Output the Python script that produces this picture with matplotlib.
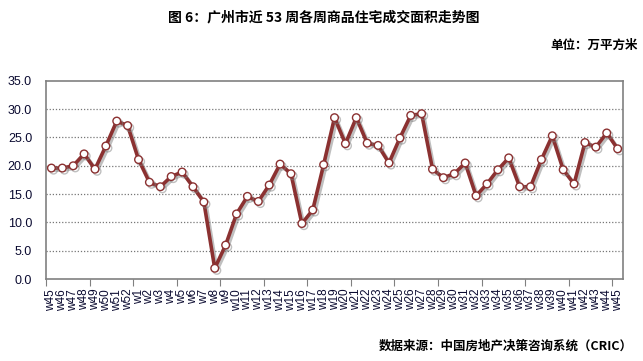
import matplotlib.pyplot as plt
import matplotlib.patheffects as pe

plt.rcParams['font.family'] = ['Liberation Sans', 'Noto Sans CJK SC', 'DejaVu Sans']

weeks = ["w45", "w46", "w47", "w48", "w49", "w50", "w51", "w52"] + ["w" + str(i) for i in range(1, 46)]
area = [19.6, 19.6, 20.0, 22.1, 19.4, 23.5, 27.9, 27.1,
        21.1, 17.1, 16.3, 18.1, 18.9, 16.3, 13.6, 1.9, 6.0, 11.5,
        14.6, 13.7, 16.6, 20.3, 18.6, 9.8, 12.2, 20.2, 28.5, 23.9,
        28.5, 24.0, 23.6, 20.5, 24.9, 28.9, 29.2, 19.4, 17.9, 18.6,
        20.5, 14.7, 16.8, 19.3, 21.4, 16.3, 16.3, 21.1, 25.3, 19.3,
        16.8, 24.1, 23.3, 25.8, 23.0]

fig = plt.figure(figsize=(6.43, 3.61), dpi=100)
ax = fig.add_axes([0.0715, 0.227, 0.8975, 0.549])

x = [i + 0.5 for i in range(len(weeks))]
line_color = "#8b3131"
ax.plot(x, area, color=line_color, linewidth=2.6, marker="o", markersize=5.5,
        markerfacecolor="white", markeredgecolor=line_color, markeredgewidth=1.0,
        path_effects=[pe.SimpleLineShadow(offset=(1.5, -1.5), shadow_color="gray", alpha=0.5), pe.Normal()],
        zorder=3)

ax.set_xlim(0, len(weeks))
ax.set_ylim(0, 35)
ax.set_yticks([0, 5, 10, 15, 20, 25, 30, 35])
ax.set_yticklabels(["%.1f" % v for v in [0, 5, 10, 15, 20, 25, 30, 35]], fontsize=9, color="#0a0a30")
ax.tick_params(axis="y", length=0, pad=10)
for v in [5, 10, 15, 20, 25, 30]:
    ax.axhline(v, color="#777777", linestyle=(0, (1, 1.5)), linewidth=0.9, zorder=1)

ax.set_xticks(range(0, len(weeks), 4))
ax.set_xticklabels([])
ax.tick_params(axis="x", which="major", length=5, color="#808080", direction="out")
ax.set_xticks(x, minor=True)
ax.set_xticklabels(weeks, minor=True, rotation=90, fontsize=8.5, color="#0a0a30")
ax.tick_params(axis="x", which="minor", length=0, pad=7)

for s in ax.spines.values():
    s.set_color("#808080")
    s.set_linewidth(1.2)

fig.text(0.503, 0.953, "图 6：广州市近 53 周各周商品住宅成交面积走势图", ha="center", va="center",
         fontsize=10, fontweight="bold", family=["Noto Sans CJK SC", "DejaVu Sans"])
fig.text(0.992, 0.875, "单位：万平方米", ha="right", va="center",
         fontsize=9, fontweight="bold", family=["Noto Sans CJK SC", "DejaVu Sans"])
fig.text(0.984, 0.04, "数据来源：中国房地产决策咨询系统（CRIC）", ha="right", va="center",
         fontsize=9, fontweight="bold", family=["Noto Sans CJK SC", "DejaVu Sans"])

fig.savefig("out.png", dpi=100)
